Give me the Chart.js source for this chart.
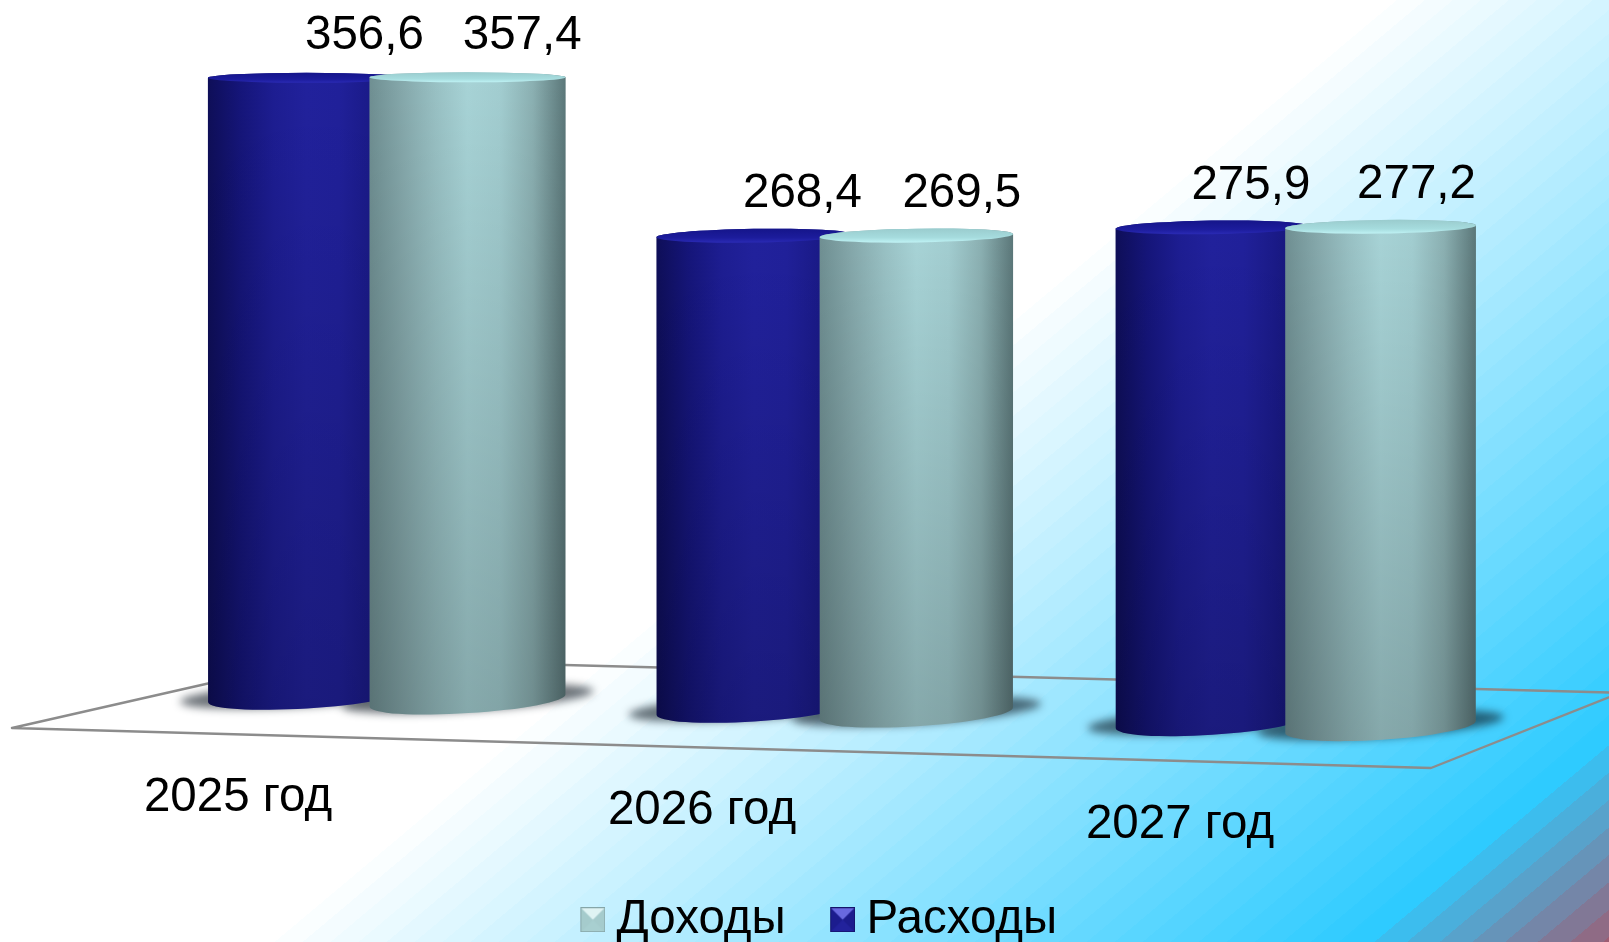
<!DOCTYPE html>
<html lang="ru">
<head>
<meta charset="utf-8">
<title>Доходы и расходы</title>
<style>
  html, body { margin: 0; padding: 0; background: #fff; overflow: hidden; }
  canvas { display: block; }
</style>
<script src="https://cdn.jsdelivr.net/npm/chart.js@4/dist/chart.umd.min.js"></script>
</head>
<body>
<canvas id="grafico" width="1609" height="942"></canvas>
<script>
const categories = ['2025 год', '2026 год', '2027 год'];
const rashody = [356.6, 268.4, 275.9];
const dohody = [357.4, 269.5, 277.2];

const FONT = '"Liberation Sans", Arial, sans-serif';
const FONT_SIZE = 47.5;

// perspective of the picture: left-most bar is the reference
const baseSlope = 0.0288;
const growth = 0.000038;
const narrowing = 0.00003;
const barStretch = 1.224;
const groupShift = [1, -6, 0];
const groupSpread = [1, 1.01, 1.05];
const labelDx = [-148, -139, -116];
const labelDy = [102, 102, 103];
const legendShift = -22;

const pieli = {
    blu: {
        side: ['#0e0e58', '#15157a', '#1d1d92', '#21219c', '#20209a', '#1a1a88', '#14146e'],
        cap: ['#15158a', '#1c1c9c', '#2a2ab4']
    },
    teal: {
        side: ['#6f8f92', '#85a8ab', '#98c0c3', '#a7d3d6', '#a2cdd0', '#8bb0b2', '#5b7779'],
        cap: ['#9accce', '#a6dcde', '#bff2f4']
    }
};

function sfondo(ctx, w, h){
    // diagonal background with the visible colour bands of the original
    const nx = 0.643, ny = 0.766;
    const tEnd = nx * w + ny * h;
    const g = ctx.createLinearGradient(0, 0, nx * tEnd, ny * tEnd);
    const mix = (a, b, k) => a.map((v, i) => Math.round(v + (b[i] - v) * k));
    const zone = [
        { from: 0, to: 880, a: [255, 255, 255], b: [255, 255, 255], step: 880 },
        { from: 880, to: 1584, a: [255, 255, 255], b: [46, 203, 255], step: 18 },
        { from: 1584, to: tEnd, a: [46, 203, 255], b: [160, 90, 112], step: 21 }
    ];
    zone.forEach(z => {
        for(let t = z.from; t < z.to; t += z.step){
            const k = (t - z.from) / (z.to - z.from);
            const c = 'rgb(' + mix(z.a, z.b, k).join(',') + ')';
            const t2 = Math.min(t + z.step, z.to);
            g.addColorStop(t / tEnd, c);
            g.addColorStop(t2 / tEnd, c);
        }
    });
    ctx.fillStyle = g;
    ctx.fillRect(0, 0, w, h);
}

function pavimento(ctx){
    ctx.save();
    ctx.strokeStyle = '#8c8c8c';
    ctx.lineWidth = 2.4;
    ctx.lineJoin = 'round';
    ctx.beginPath();
    ctx.moveTo(318, 658.5);
    ctx.lineTo(12, 728);
    ctx.lineTo(1431, 768);
    ctx.lineTo(1620, 692.8);
    ctx.lineTo(318, 658.5);
    ctx.stroke();
    ctx.restore();
}

function geometria(bar, cat, chart){
    const x0 = chart.getDatasetMeta(0).data[0].x;
    const cx0 = chart.scales.x.getPixelForValue(cat);
    const x = cx0 + (bar.x - cx0) * groupSpread[cat] + groupShift[cat];
    const d = x - x0;
    const base0 = bar.base;
    const yBot = base0 + baseSlope * d;
    const yTop = yBot - (base0 - bar.y) * (1 + growth * d);
    const rx = bar.width * barStretch * (1 - narrowing * d) / 2;
    const ryOf = y => 5 + 0.012 * (y - 78);
    const rotOf = y => -0.0001 * (y - 78);
    return { x, yTop, yBot, rx, ryTop: ryOf(yTop), ryBot: ryOf(yBot), rotTop: rotOf(yTop), rotBot: rotOf(yBot) };
}

function ombra(ctx, g){
    ctx.save();
    ctx.filter = 'blur(4px)';
    ctx.fillStyle = 'rgba(10,20,30,0.6)';
    ctx.beginPath();
    ctx.ellipse(g.x, g.yBot - 2, g.rx + 28, g.ryBot, g.rotBot, 0, Math.PI * 2);
    ctx.fill();
    ctx.restore();
}

function cilindro(ctx, g, p){
    ctx.save();
    ctx.beginPath();
    ctx.ellipse(g.x, g.yBot, g.rx, g.ryBot, g.rotBot, 0, Math.PI);
    ctx.ellipse(g.x, g.yTop, g.rx, g.ryTop, g.rotTop, Math.PI, Math.PI * 2);
    ctx.closePath();
    const h = ctx.createLinearGradient(g.x - g.rx, 0, g.x + g.rx, 0);
    p.side.forEach((c, i) => h.addColorStop(i / (p.side.length - 1), c));
    ctx.fillStyle = h;
    ctx.fill();
    const v = ctx.createLinearGradient(0, g.yTop, 0, g.yBot + g.ryBot);
    v.addColorStop(0, 'rgba(0,0,0,0)');
    v.addColorStop(1, 'rgba(0,0,0,0.2)');
    ctx.fillStyle = v;
    ctx.fill();

    const c = ctx.createLinearGradient(0, g.yTop - g.ryTop, 0, g.yTop + g.ryTop);
    c.addColorStop(0, p.cap[0]);
    c.addColorStop(0.65, p.cap[1]);
    c.addColorStop(1, p.cap[2]);
    ctx.fillStyle = c;
    ctx.beginPath();
    ctx.ellipse(g.x, g.yTop, g.rx, g.ryTop, g.rotTop, 0, Math.PI * 2);
    ctx.fill();
    ctx.restore();
}

function marker(top, side, bottom, edge){
    // small bevelled legend square, pushed to the right of a wider canvas
    const c = document.createElement('canvas');
    c.width = 37; c.height = 25;
    const m = c.getContext('2d');
    const x = 12, s = 25;
    const tri = (col, pts) => {
        m.fillStyle = col;
        m.beginPath();
        pts.forEach((q, i) => i ? m.lineTo(q[0], q[1]) : m.moveTo(q[0], q[1]));
        m.closePath();
        m.fill();
    };
    const a = [x, 0], b = [x + s, 0], d = [x + s, s], e = [x, s], o = [x + s / 2, s / 2];
    tri(side, [a, b, d, e]);
    tri(top, [a, b, o]);
    tri(bottom, [d, e, o]);
    m.strokeStyle = edge;
    m.lineWidth = 1;
    m.strokeRect(x + 0.5, 0.5, s - 1, s - 1);
    return c;
}
const markerDoh = marker('#dff3f3', '#a5cbcc', '#a8cfd0', '#86a6a8');
const markerRas = marker('#6868e0', '#1c1c8e', '#22229c', '#14146a');

const cilindri = {
    id: 'cilindri',
    beforeDraw(chart){
        sfondo(chart.ctx, chart.width, chart.height);
    },
    afterLayout(chart){
        // legend sits lower than the box layout would place it
        const l = chart.legend;
        const dy = 851 - l.top;
        l.top += dy; l.bottom += dy;
        l.left += legendShift; l.right += legendShift;
    },
    beforeDatasetsDraw(chart){
        const ctx = chart.ctx;
        pavimento(ctx);
        const m0 = chart.getDatasetMeta(0).data, m1 = chart.getDatasetMeta(1).data;
        const testi = [];
        categories.forEach((cat, i) => {
            const g0 = geometria(m0[i], i, chart), g1 = geometria(m1[i], i, chart);
            ombra(ctx, g0);
            ombra(ctx, g1);
            cilindro(ctx, g0, pieli.blu);
            cilindro(ctx, g1, pieli.teal);
            testi.push([g0, rashody[i]], [g1, dohody[i]]);
        });
        ctx.save();
        ctx.fillStyle = '#000';
        ctx.font = FONT_SIZE + 'px ' + FONT;
        ctx.textAlign = 'center';
        ctx.textBaseline = 'middle';
        const x0 = m0[0].x;
        testi.forEach(([g, v]) => {
            const dx = 58 - 0.0205 * (g.x - x0);
            ctx.fillText(v.toFixed(1).replace('.', ','), g.x + dx, g.yTop - 41.5);
        });
        categories.forEach((cat, i) => {
            const cx = chart.scales.x.getPixelForValue(i);
            ctx.fillText(cat, cx + labelDx[i], chart.scales.y.getPixelForValue(0) + labelDy[i] + i * 13);
        });
        ctx.restore();
        return false;
    }
};

new Chart(document.getElementById('grafico'), {
    type: 'bar',
    data: {
        labels: categories,
        datasets: [
            { label: 'Расходы', data: rashody, backgroundColor: '#1d1d92', barPercentage: 1, categoryPercentage: 0.708 },
            { label: 'Доходы', data: dohody, backgroundColor: '#a7d3d6', barPercentage: 1, categoryPercentage: 0.708 }
        ]
    },
    options: {
        responsive: false,
        animation: false,
        layout: { padding: { left: 158.5, right: 85.5, top: 2.6, bottom: 143.5 } },
        scales: {
            x: { display: false },
            y: { display: false, min: 0, max: 400 }
        },
        plugins: {
            tooltip: { enabled: false },
            legend: {
                position: 'bottom',
                reverse: true,
                labels: {
                    usePointStyle: true,
                    pointStyleWidth: 12,
                    padding: 45,
                    color: '#000',
                    font: { family: FONT, size: FONT_SIZE },
                    generateLabels(chart){
                        const items = Chart.defaults.plugins.legend.labels.generateLabels(chart);
                        items.forEach(it => { it.pointStyle = it.datasetIndex === 0 ? markerRas : markerDoh; });
                        return items;
                    }
                }
            }
        }
    },
    plugins: [cilindri]
});
</script>
</body>
</html>
